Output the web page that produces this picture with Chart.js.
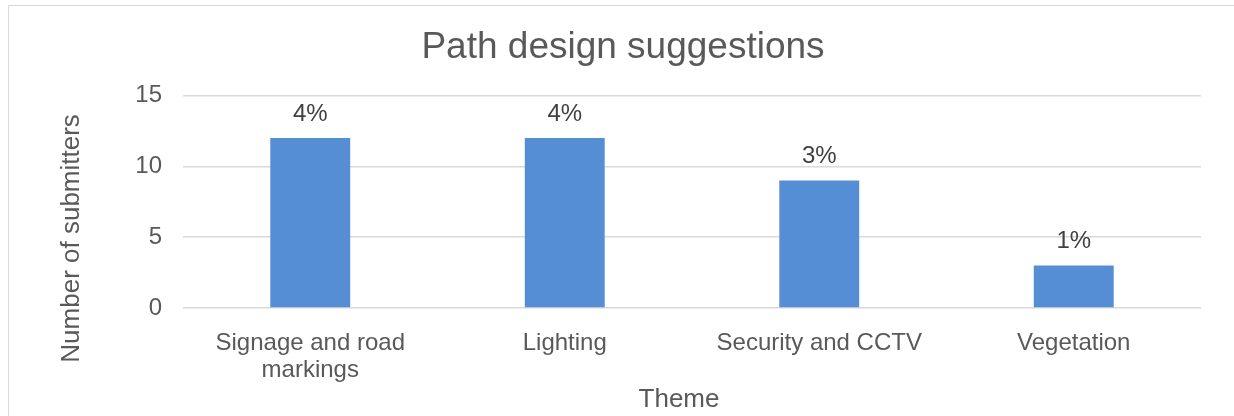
<!DOCTYPE html>
<html>
<head>
<meta charset="utf-8">
<script src="https://cdn.jsdelivr.net/npm/chart.js@4"></script>
<style>
    html, body { margin: 0; padding: 0; background: #ffffff; }
    #wrap { width: 1234px; height: 416px; }
</style>
</head>
<body>
<div id="wrap"><canvas id="pathChart"></canvas></div>
<script>
// Chart data
const themes = [["Signage and road", "markings"], "Lighting", "Security and CCTV", "Vegetation"];
const submitters = [12, 12, 9, 3];
const shareLabels = ["4%", "4%", "3%", "1%"];
const yTicks = [0, 5, 10, 15];

const textGrey = "#595959";
const fontFamily = "'Liberation Sans', Arial, sans-serif";

// Light frame round the whole chart
const framePlugin = {
    id: "frame",
    beforeDraw(chart) {
        const ctx = chart.ctx;
        ctx.save();
        ctx.fillStyle = "#ffffff";
        ctx.fillRect(0, 0, chart.width, chart.height);
        ctx.strokeStyle = "#d9d9d9";
        ctx.lineWidth = 1;
        ctx.strokeRect(8.5, 5.5, chart.width + 20, chart.height + 20);
        ctx.restore();
    }
};

// Percent labels above each bar
const barLabelPlugin = {
    id: "barLabels",
    afterDatasetsDraw(chart) {
        const ctx = chart.ctx;
        const meta = chart.getDatasetMeta(0);
        ctx.save();
        ctx.font = "24px " + fontFamily;
        ctx.fillStyle = "#404040";
        ctx.textAlign = "center";
        ctx.textBaseline = "alphabetic";
        meta.data.forEach((bar, i) => {
            ctx.fillText(shareLabels[i], bar.x, bar.y - 17);
        });
        ctx.restore();
    }
};

// Axis titles (placed like the original, not centred on the plot)
const axisTitlePlugin = {
    id: "axisTitles",
    afterDraw(chart) {
        const ctx = chart.ctx;
        const area = chart.chartArea;
        ctx.save();
        ctx.font = "26px " + fontFamily;
        ctx.fillStyle = textGrey;
        ctx.textAlign = "center";
        ctx.textBaseline = "middle";
        ctx.fillText("Theme", area.left + 496, 400);
        ctx.translate(72, area.top + 143);
        ctx.rotate(-Math.PI / 2);
        ctx.fillText("Number of submitters", 0, 0);
        ctx.restore();
    }
};

new Chart(document.getElementById("pathChart"), {
    type: "bar",
    data: {
        labels: themes,
        datasets: [{
            label: "Number of submitters",
            data: submitters,
            backgroundColor: "#558ed5",
            borderWidth: 0,
            categoryPercentage: 1,
            barPercentage: 0.314
        }]
    },
    options: {
        responsive: true,
        maintainAspectRatio: false,
        animation: false,
        layout: {
            padding: { left: 45, right: 33, top: 0, bottom: 0 }
        },
        plugins: {
            legend: { display: false },
            tooltip: { enabled: false },
            title: {
                display: true,
                text: "Path design suggestions",
                color: textGrey,
                font: { family: fontFamily, size: 37, weight: "normal", lineHeight: 1.2 },
                padding: { top: 26, bottom: 25 }
            }
        },
        scales: {
            x: {
                grid: { display: false },
                border: { display: false },
                ticks: {
                    color: textGrey,
                    font: { family: fontFamily, size: 24, lineHeight: 1.12 },
                    padding: 14,
                    maxRotation: 0,
                    autoSkip: false
                },
                afterFit(scale) { scale.height = 108; }
            },
            y: {
                min: yTicks[0],
                max: yTicks[yTicks.length - 1],
                grid: { color: "#d9d9d9", lineWidth: 1.5, drawTicks: false },
                border: { display: false },
                afterBuildTicks(scale) {
                    scale.ticks = yTicks.map(v => ({ value: v }));
                },
                ticks: {
                    color: textGrey,
                    font: { family: fontFamily, size: 24 },
                    padding: 21
                },
                afterFit(scale) { scale.width = 138; }
            }
        }
    },
    plugins: [framePlugin, barLabelPlugin, axisTitlePlugin]
});
</script>
</body>
</html>
